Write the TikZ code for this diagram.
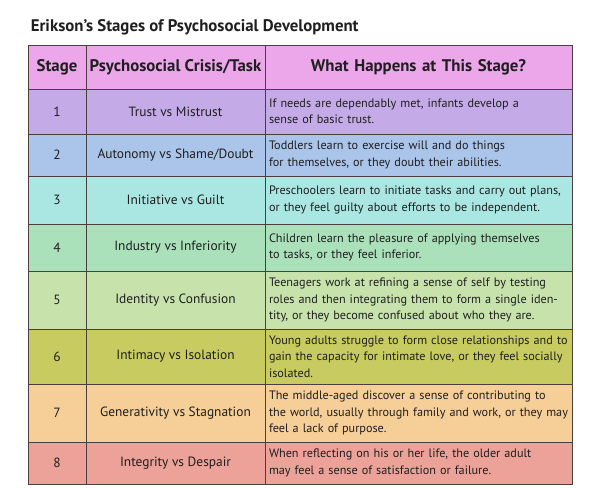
\documentclass[tikz,border=0pt]{standalone}
\usepackage{fontspec}
\setmainfont{PT Sans}
\usetikzlibrary{positioning}
\definecolor{tableline}{RGB}{75,62,62}
\definecolor{headpink}{RGB}{236,166,234}
\definecolor{rowone}{RGB}{196,170,230}
\definecolor{rowtwo}{RGB}{170,196,234}
\definecolor{rowthree}{RGB}{170,230,226}
\definecolor{rowfour}{RGB}{170,224,186}
\definecolor{rowfive}{RGB}{200,226,172}
\definecolor{rowsix}{RGB}{200,204,96}
\definecolor{rowseven}{RGB}{245,206,152}
\definecolor{roweight}{RGB}{236,162,152}

\begin{document}
\begin{tikzpicture}
		[x=1pt, y=-1pt,
		line width=1pt,
		every node/.style={text=black!88},
		cell/.style = {draw=tableline, anchor=north west, inner sep=0pt, outer sep=0pt, font=\fontsize{13.4}{16}\selectfont},
		stagecol/.style = {cell, minimum width=58pt, align=center},
		crisiscol/.style = {cell, minimum width=179pt, align=center},
		whatcol/.style = {cell, text width=299pt, inner xsep=4pt, align=left, font=\fontsize{12.2}{16.5}\selectfont},
		headcell/.style = {fill=headpink, font=\bfseries\fontsize{16.8}{18}\selectfont}
		]
		\useasboundingbox (0,0) rectangle (601,487);

		\node[anchor=base west, font=\bfseries\fontsize{16.8}{18}\selectfont] (title) at (27,31) {Erikson’s Stages of Psychosocial Development};

		% header
		\node[stagecol, headcell, minimum height=43pt] (s0) at (28,46) {Stage};
		\node[crisiscol, headcell, minimum height=43pt] (c0) at (s0.north east) {Psychosocial Crisis/Task};
		\node[whatcol, headcell, minimum height=43pt, align=center] (w0) at (c0.north east) {What Happens at This Stage?};

		% stages
		\node[stagecol, fill=rowone, minimum height=45pt] (s1) at (s0.south west) {1};
		\node[crisiscol, fill=rowone, minimum height=45pt] (c1) at (s1.north east) {Trust vs Mistrust};
		\node[whatcol, fill=rowone, minimum height=45pt] (w1) at (c1.north east) {If needs are dependably met, infants develop a\\ sense of basic trust.};

		\node[stagecol, fill=rowtwo, minimum height=42pt] (s2) at (s1.south west) {2};
		\node[crisiscol, fill=rowtwo, minimum height=42pt] (c2) at (s2.north east) {Autonomy vs Shame/Doubt};
		\node[whatcol, fill=rowtwo, minimum height=42pt] (w2) at (c2.north east) {Toddlers learn to exercise will and do things\\ for themselves, or they doubt their abilities.};

		\node[stagecol, fill=rowthree, minimum height=48pt] (s3) at (s2.south west) {3};
		\node[crisiscol, fill=rowthree, minimum height=48pt] (c3) at (s3.north east) {Initiative vs Guilt};
		\node[whatcol, fill=rowthree, minimum height=48pt] (w3) at (c3.north east) {Preschoolers learn to initiate tasks and carry out plans,\\ or they feel guilty about efforts to be independent.};

		\node[stagecol, fill=rowfour, minimum height=47pt] (s4) at (s3.south west) {4};
		\node[crisiscol, fill=rowfour, minimum height=47pt] (c4) at (s4.north east) {Industry vs Inferiority};
		\node[whatcol, fill=rowfour, minimum height=47pt] (w4) at (c4.north east) {Children learn the pleasure of applying themselves\\ to tasks, or they feel inferior.};

		\node[stagecol, fill=rowfive, minimum height=58pt] (s5) at (s4.south west) {5};
		\node[crisiscol, fill=rowfive, minimum height=58pt] (c5) at (s5.north east) {Identity vs Confusion};
		\node[whatcol, fill=rowfive, minimum height=58pt] (w5) at (c5.north east) {Teenagers work at refining a sense of self by testing\\ roles and then integrating them to form a single iden-\\ tity, or they become confused about who they are.};

		\node[stagecol, fill=rowsix, minimum height=55pt] (s6) at (s5.south west) {6};
		\node[crisiscol, fill=rowsix, minimum height=55pt] (c6) at (s6.north east) {Intimacy vs Isolation};
		\node[whatcol, fill=rowsix, minimum height=55pt] (w6) at (c6.north east) {Young adults struggle to form close relationships and to\\ gain the capacity for intimate love, or they feel socially\\ isolated.};

		\node[stagecol, fill=rowseven, minimum height=58pt] (s7) at (s6.south west) {7};
		\node[crisiscol, fill=rowseven, minimum height=58pt] (c7) at (s7.north east) {Generativity vs Stagnation};
		\node[whatcol, fill=rowseven, minimum height=58pt] (w7) at (c7.north east) {The middle-aged discover a sense of contributing to\\ the world, usually through family and work, or they may\\ feel a lack of purpose.};

		\node[stagecol, fill=roweight, minimum height=42pt] (s8) at (s7.south west) {8};
		\node[crisiscol, fill=roweight, minimum height=42pt] (c8) at (s8.north east) {Integrity vs Despair};
		\node[whatcol, fill=roweight, minimum height=42pt] (w8) at (c8.north east) {When reflecting on his or her life, the older adult\\ may feel a sense of satisfaction or failure.};
	\end{tikzpicture}
\end{document}
